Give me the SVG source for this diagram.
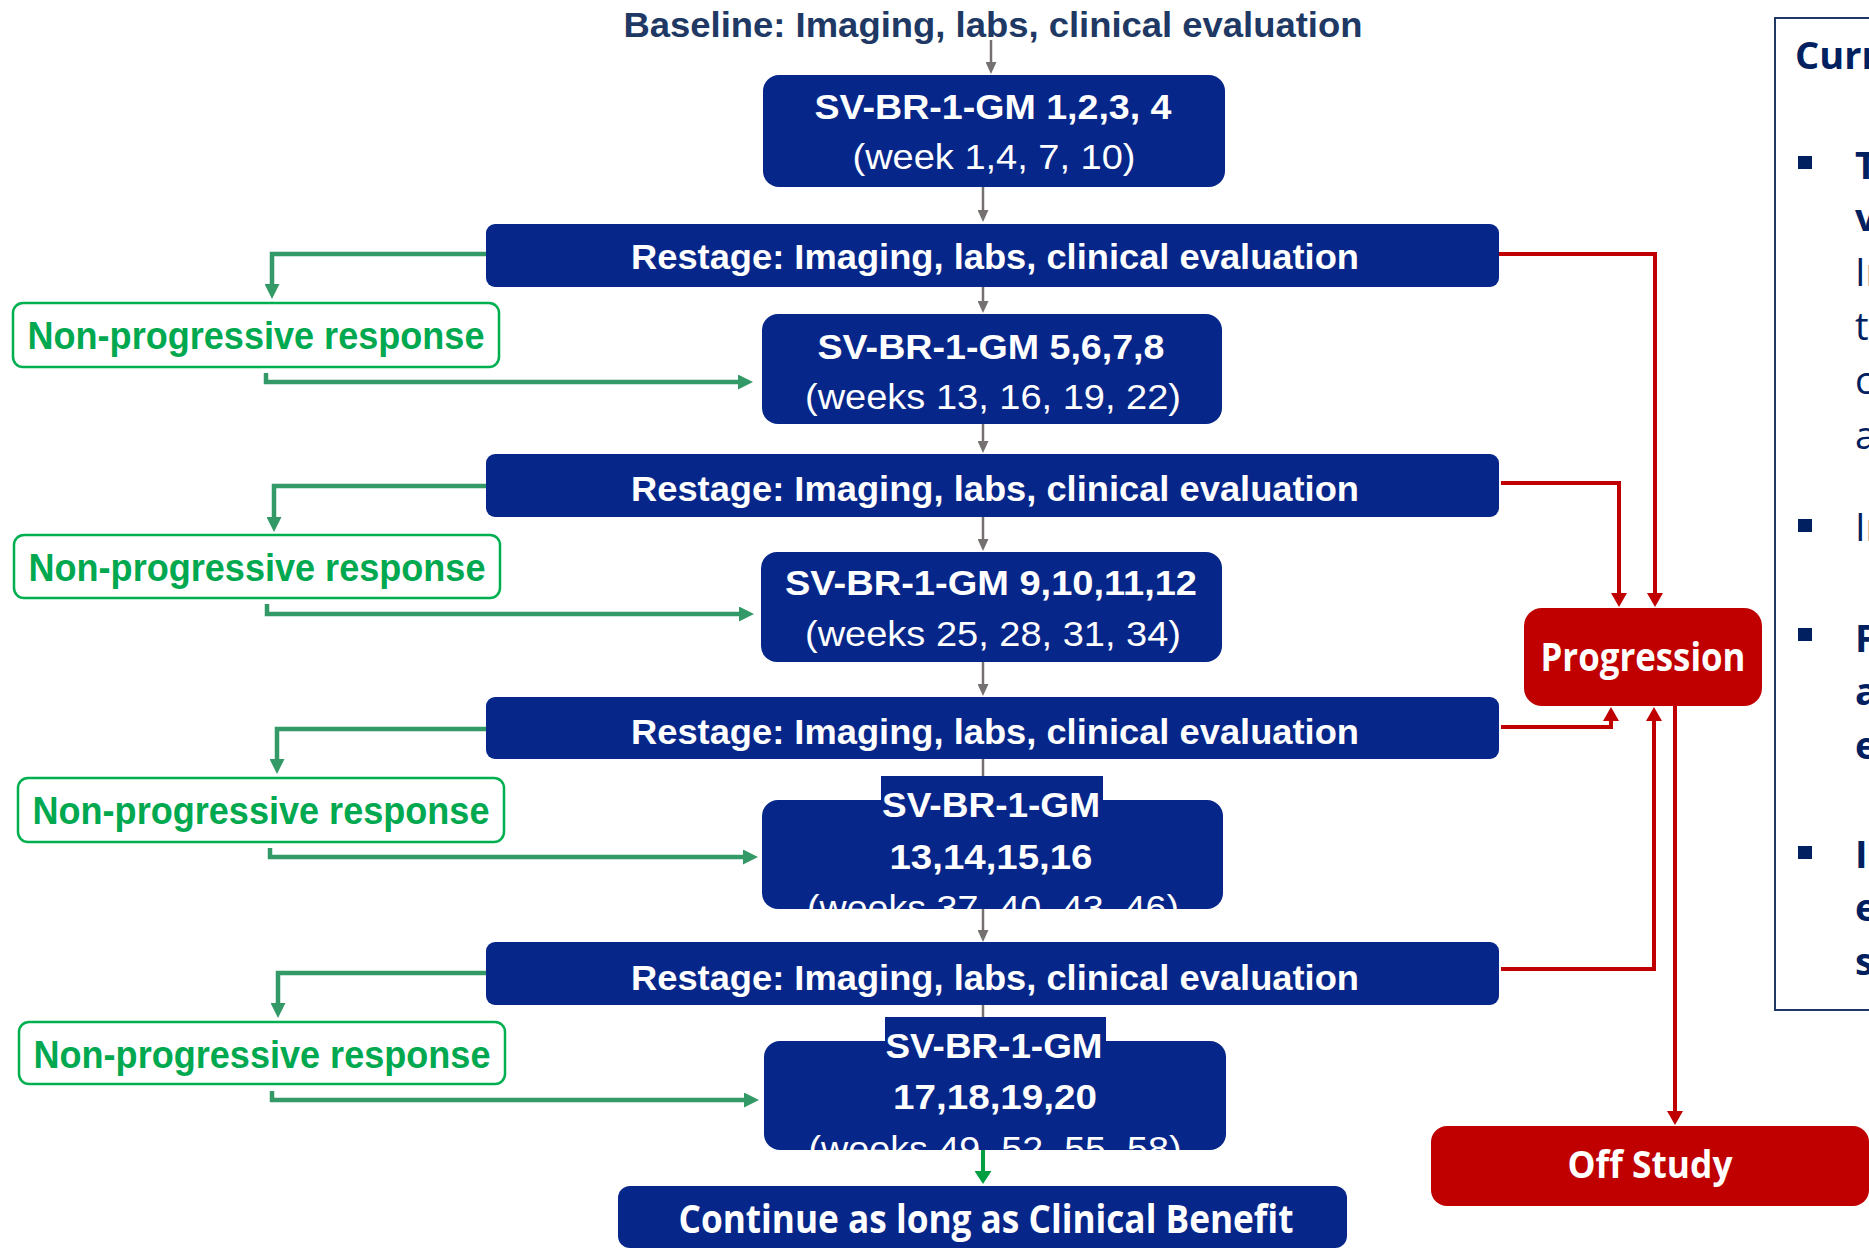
<svg xmlns="http://www.w3.org/2000/svg" width="1869" height="1249" viewBox="0 0 1869 1249">
<style>
.nv{fill:#06268A}
.t{font-family:"Liberation Sans",Arial,sans-serif;fill:#fff;text-anchor:middle}
.b{font-weight:bold}
.rs{font-size:34.5px}
.bx{font-size:35px}
.npr rect{fill:#fff;stroke:#00B050;stroke-width:2.5}
.npr text{font-family:"Liberation Sans",Arial,sans-serif;font-weight:bold;font-size:38px;fill:#00A84F;text-anchor:middle}
.os{font-family:"Open Sans","Liberation Sans",sans-serif;font-weight:bold;fill:#fff;text-anchor:middle}
.red{fill:#C00000}
.cg{stroke:#767171;stroke-width:2.5;fill:none}
.cgr{stroke:#339966;stroke-width:4.5;fill:none}
.crd{stroke:#C00000;stroke-width:4;fill:none}
.pt{font-family:"Open Sans","Liberation Sans",sans-serif;font-size:38px;fill:#002060}
</style>
<defs>
<marker id="ag" markerUnits="userSpaceOnUse" markerWidth="12" markerHeight="11" refX="1" refY="5.5" orient="auto"><path d="M0,0 L12,5.5 L0,11 z" fill="#767171"/></marker>
<marker id="agr" markerUnits="userSpaceOnUse" markerWidth="15" markerHeight="15" refX="1" refY="7.5" orient="auto"><path d="M0,0 L15,7.5 L0,15 z" fill="#339966"/></marker>
<marker id="ard" markerUnits="userSpaceOnUse" markerWidth="14" markerHeight="16" refX="1" refY="8" orient="auto"><path d="M0,0 L14,8 L0,16 z" fill="#C00000"/></marker>
<marker id="agn" markerUnits="userSpaceOnUse" markerWidth="13" markerHeight="17" refX="1" refY="8.5" orient="auto"><path d="M0,0 L13,8.5 L0,17 z" fill="#00A040"/></marker>
<clipPath id="clip4"><rect x="700" y="760" width="600" height="149"/></clipPath>
<clipPath id="clip5"><rect x="700" y="1000" width="600" height="150"/></clipPath>
</defs>

<g id="connectors">
<path class="cg" d="M991,40 V63" marker-end="url(#ag)"/>
<path class="cg" d="M983,187 V211" marker-end="url(#ag)"/>
<path class="cg" d="M983,287 V302" marker-end="url(#ag)"/>
<path class="cg" d="M983,424 V442" marker-end="url(#ag)"/>
<path class="cg" d="M983,517 V540" marker-end="url(#ag)"/>
<path class="cg" d="M983,662 V685" marker-end="url(#ag)"/>
<path class="cg" d="M983,759 V777"/>
<path class="cg" d="M983,909 V931" marker-end="url(#ag)"/>
<path class="cg" d="M983,1005 V1018"/>
<path class="cgr" d="M486,254 H272 V285" marker-end="url(#agr)"/>
<path class="cgr" d="M266,373 V382 H739" marker-end="url(#agr)"/>
<path class="cgr" d="M487,486 H274 V518" marker-end="url(#agr)"/>
<path class="cgr" d="M267,604 V614 H740" marker-end="url(#agr)"/>
<path class="cgr" d="M486,729 H277 V760" marker-end="url(#agr)"/>
<path class="cgr" d="M270,848 V857 H744" marker-end="url(#agr)"/>
<path class="cgr" d="M487,973 H278 V1004" marker-end="url(#agr)"/>
<path class="cgr" d="M272,1091 V1100 H745" marker-end="url(#agr)"/>
<path d="M983,1150 V1172" stroke="#00A040" stroke-width="4" fill="none" marker-end="url(#agn)"/>
<path class="crd" d="M1499,254 H1655 V594" marker-end="url(#ard)"/>
<path class="crd" d="M1501,483 H1619 V594" marker-end="url(#ard)"/>
<path class="crd" d="M1501,727 H1611 V720" marker-end="url(#ard)"/>
<path class="crd" d="M1501,969 H1654 V720" marker-end="url(#ard)"/>
<path class="crd" d="M1675,706 V1112" marker-end="url(#ard)"/>
</g>

<g id="node-baseline">
<text x="993" y="37" font-family="Liberation Sans, Arial, sans-serif" font-weight="bold" font-size="35" fill="#203864" text-anchor="middle" textLength="739" lengthAdjust="spacingAndGlyphs">Baseline: Imaging, labs, clinical evaluation</text>
</g>

<g id="node-dose1">
<rect class="nv" x="763" y="75" width="462" height="112" rx="16"/>
<text class="t b bx" x="993" y="119" textLength="357" lengthAdjust="spacingAndGlyphs">SV-BR-1-GM 1,2,3, 4</text>
<text class="t bx" x="994" y="169" textLength="283" lengthAdjust="spacingAndGlyphs">(week 1,4, 7, 10)</text>
</g>

<g id="node-restage1">
<rect class="nv" x="486" y="224" width="1013" height="63" rx="9"/>
<text class="t b rs" x="995" y="269" textLength="728" lengthAdjust="spacingAndGlyphs">Restage: Imaging, labs, clinical evaluation</text>
</g>

<g id="node-npr1" class="npr">
<rect x="13" y="303" width="486" height="64" rx="10"/>
<text x="256" y="349" textLength="457" lengthAdjust="spacingAndGlyphs">Non-progressive response</text>
</g>

<g id="node-dose2">
<rect class="nv" x="762" y="314" width="460" height="110" rx="16"/>
<text class="t b bx" x="991" y="359" textLength="347" lengthAdjust="spacingAndGlyphs">SV-BR-1-GM 5,6,7,8</text>
<text class="t bx" x="993" y="409" textLength="376" lengthAdjust="spacingAndGlyphs">(weeks 13, 16, 19, 22)</text>
</g>

<g id="node-restage2">
<rect class="nv" x="486" y="454" width="1013" height="63" rx="9"/>
<text class="t b rs" x="995" y="501" textLength="728" lengthAdjust="spacingAndGlyphs">Restage: Imaging, labs, clinical evaluation</text>
</g>

<g id="node-npr2" class="npr">
<rect x="14" y="535" width="486" height="63" rx="10"/>
<text x="257" y="581" textLength="457" lengthAdjust="spacingAndGlyphs">Non-progressive response</text>
</g>

<g id="node-dose3">
<rect class="nv" x="761" y="552" width="461" height="110" rx="16"/>
<text class="t b bx" x="991" y="595" textLength="412" lengthAdjust="spacingAndGlyphs">SV-BR-1-GM 9,10,11,12</text>
<text class="t bx" x="993" y="646" textLength="376" lengthAdjust="spacingAndGlyphs">(weeks 25, 28, 31, 34)</text>
</g>

<g id="node-restage3">
<rect class="nv" x="486" y="697" width="1013" height="62" rx="9"/>
<text class="t b rs" x="995" y="744" textLength="728" lengthAdjust="spacingAndGlyphs">Restage: Imaging, labs, clinical evaluation</text>
</g>

<g id="node-npr3" class="npr">
<rect x="18" y="778" width="486" height="64" rx="10"/>
<text x="261" y="824" textLength="457" lengthAdjust="spacingAndGlyphs">Non-progressive response</text>
</g>

<g id="node-dose4">
<rect class="nv" x="762" y="800" width="461" height="109" rx="16"/>
<rect class="nv" x="881" y="776" width="222" height="40"/>
<text class="t b bx" x="991" y="817" textLength="218" lengthAdjust="spacingAndGlyphs">SV-BR-1-GM</text>
<text class="t b bx" x="991" y="869" textLength="203" lengthAdjust="spacingAndGlyphs">13,14,15,16</text>
<text class="t bx" x="993" y="920" textLength="372" lengthAdjust="spacingAndGlyphs" clip-path="url(#clip4)">(weeks 37, 40, 43, 46)</text>
</g>

<g id="node-restage4">
<rect class="nv" x="486" y="942" width="1013" height="63" rx="9"/>
<text class="t b rs" x="995" y="990" textLength="728" lengthAdjust="spacingAndGlyphs">Restage: Imaging, labs, clinical evaluation</text>
</g>

<g id="node-npr4" class="npr">
<rect x="19" y="1022" width="486" height="62" rx="10"/>
<text x="262" y="1068" textLength="457" lengthAdjust="spacingAndGlyphs">Non-progressive response</text>
</g>

<g id="node-dose5">
<rect class="nv" x="764" y="1041" width="462" height="109" rx="16"/>
<rect class="nv" x="885" y="1017" width="221" height="40"/>
<text class="t b bx" x="994" y="1058" textLength="217" lengthAdjust="spacingAndGlyphs">SV-BR-1-GM</text>
<text class="t b bx" x="995" y="1109" textLength="204" lengthAdjust="spacingAndGlyphs">17,18,19,20</text>
<text class="t bx" x="995" y="1161" textLength="373" lengthAdjust="spacingAndGlyphs" clip-path="url(#clip5)">(weeks 49, 52, 55, 58)</text>
</g>

<g id="node-continue">
<rect class="nv" x="618" y="1186" width="729" height="62" rx="12"/>
<text class="os" x="986" y="1233" font-size="40" textLength="615" lengthAdjust="spacingAndGlyphs">Continue as long as Clinical Benefit</text>
</g>

<g id="node-progression">
<rect class="red" x="1524" y="608" width="238" height="98" rx="18"/>
<text class="os" x="1643" y="671" font-size="39" textLength="205" lengthAdjust="spacingAndGlyphs">Progression</text>
</g>

<g id="node-offstudy">
<rect class="red" x="1431" y="1126" width="438" height="80" rx="16"/>
<text class="os" x="1650" y="1178" font-size="38" textLength="165" lengthAdjust="spacingAndGlyphs">Off Study</text>
</g>

<g id="node-panel">
<rect x="1775" y="18" width="120" height="992" fill="none" stroke="#1F3864" stroke-width="2"/>
<text class="pt" x="1795" y="69" font-weight="bold">Curr</text>
<rect x="1798" y="156" width="14" height="13" fill="#002060"/>
<rect x="1798" y="519" width="14" height="13" fill="#002060"/>
<rect x="1798" y="628" width="14" height="13" fill="#002060"/>
<rect x="1798" y="846" width="14" height="13" fill="#002060"/>
<text class="pt" x="1855" y="179" font-weight="bold">T</text>
<text class="pt" x="1855" y="231" font-weight="bold">v</text>
<text class="pt" x="1855" y="286">In</text>
<text class="pt" x="1855" y="340">t</text>
<text class="pt" x="1855" y="394">c</text>
<text class="pt" x="1855" y="449">a</text>
<text class="pt" x="1855" y="541">In</text>
<text class="pt" x="1855" y="652" font-weight="bold">F</text>
<text class="pt" x="1855" y="705" font-weight="bold">a</text>
<text class="pt" x="1855" y="759" font-weight="bold">e</text>
<text class="pt" x="1855" y="868" font-weight="bold">In</text>
<text class="pt" x="1855" y="921" font-weight="bold">e</text>
<text class="pt" x="1855" y="975" font-weight="bold">s</text>
</g>
</svg>
